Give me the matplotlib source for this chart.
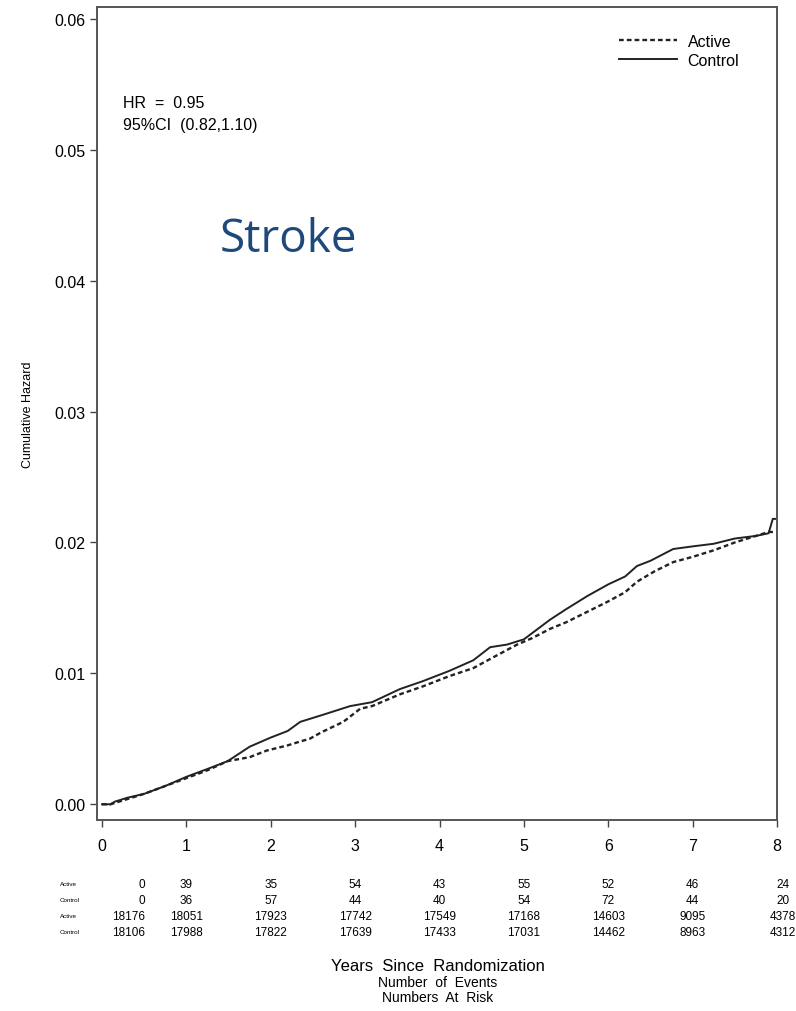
import numpy as np
import matplotlib
matplotlib.use("Agg")
import matplotlib.pyplot as plt

plt.rcParams['font.family'] = ['Liberation Sans', 'DejaVu Sans']

# cumulative hazard curves
t_control = [0, 0.10, 0.15, 0.30, 0.50, 0.75, 1.00, 1.25, 1.49, 1.75, 2.00, 2.20, 2.35,
             2.60, 2.94, 3.20, 3.53, 3.80, 4.12, 4.40, 4.60, 4.80, 5.00, 5.31, 5.50,
             5.75, 6.00, 6.20, 6.34, 6.50, 6.77, 7.00, 7.25, 7.50, 7.75, 7.90, 7.95, 8.00]
h_control = [0, 0, 0.0002, 0.0005, 0.0008, 0.0014, 0.0021, 0.0027, 0.0033, 0.0044,
             0.0051, 0.0056, 0.0063, 0.0068, 0.0075, 0.0078, 0.0088, 0.0094, 0.0102,
             0.0110, 0.0120, 0.0122, 0.0126, 0.0141, 0.0149, 0.0159, 0.0168, 0.0174,
             0.0182, 0.0186, 0.0195, 0.0197, 0.0199, 0.0203, 0.0205, 0.0207, 0.0218, 0.0218]

t_active = [0, 0.10, 0.15, 0.30, 0.50, 0.75, 1.00, 1.25, 1.49, 1.75, 1.95, 2.20, 2.35,
            2.46, 2.60, 2.86, 3.06, 3.20, 3.53, 3.80, 4.12, 4.40, 4.60, 4.92, 5.10,
            5.31, 5.50, 5.75, 6.00, 6.20, 6.34, 6.55, 6.77, 7.00, 7.25, 7.50, 7.75,
            7.90, 8.00]
h_active = [0, 0, 0.0001, 0.0004, 0.0008, 0.0014, 0.0020, 0.0026, 0.0033, 0.0036,
            0.0041, 0.0045, 0.0048, 0.0050, 0.0055, 0.0063, 0.0073, 0.0075, 0.0084,
            0.0090, 0.0098, 0.0104, 0.0111, 0.0122, 0.0127, 0.0134, 0.0139, 0.0147,
            0.0155, 0.0162, 0.0170, 0.0178, 0.0185, 0.0189, 0.0194, 0.0200, 0.0205,
            0.0208, 0.0208]

years = [0, 1, 2, 3, 4, 5, 6, 7, 8]
events_active = [0, 39, 35, 54, 43, 55, 52, 46, 24]
events_control = [0, 36, 57, 44, 40, 54, 72, 44, 20]
risk_active = [18176, 18051, 17923, 17742, 17549, 17168, 14603, 9095, 4378]
risk_control = [18106, 17988, 17822, 17639, 17433, 17031, 14462, 8963, 4312]
row_labels = ['Active', 'Control', 'Active', 'Control']

W, H = 796, 1012
fig = plt.figure(figsize=(W / 100, H / 100), dpi=100)
ax = fig.add_axes([97 / W, 1 - 821 / H, 680 / W, 813 / H])

ax.plot(t_active, h_active, color='#222222', lw=1.7, ls=(0, (2.0, 1.3)), label='Active')
ax.plot(t_control, h_control, color='#222222', lw=1.4, label='Control')

ax.set_xlim(-0.06, 8.0)
ax.set_ylim(-0.0012, 0.0609)
ax.set_xticks(years)
ax.set_yticks([0, 0.01, 0.02, 0.03, 0.04, 0.05, 0.06])
ax.set_yticklabels(['0.00', '0.01', '0.02', '0.03', '0.04', '0.05', '0.06'])
ax.tick_params(labelsize=11.5, length=5, width=1, color='#444444')
ax.tick_params(axis='x', pad=8)
for s in ax.spines.values():
    s.set_color('#555555')
    s.set_linewidth(1.4)

ax.set_ylabel('Cumulative Hazard', fontsize=9)
ax.yaxis.set_label_coords(-0.092, 0.5)

leg = ax.legend(loc='upper left', bbox_to_anchor=(522 / 680, 1 - 27 / 813), frameon=False,
                fontsize=11.5, handlelength=3.6, handletextpad=0.7, labelspacing=0.25,
                borderaxespad=0, borderpad=0)

fig.text(123 / W, 1 - 104 / H, 'HR  =  0.95', fontsize=11.5, va='center')
fig.text(123 / W, 1 - 126 / H, '95%CI  (0.82,1.10)', fontsize=11.5, va='center')

fig.text(220 / W, 1 - 240 / H, 'Stroke', fontsize=33, color='#1F497D', va='center',
         family=['Open Sans', 'DejaVu Sans'])

# events / at-risk table under the axis
def xpix(t):
    return ax.transData.transform((t, 0))[0] / W

rows = [events_active, events_control, risk_active, risk_control]
row_y = [885, 901, 917, 933]
for lab, vals, yp in zip(row_labels, rows, row_y):
    fig.text(60 / W, 1 - yp / H, lab, fontsize=4.5, va='center')
    for i, (t, v) in enumerate(zip(years, vals)):
        if i == 0:
            fig.text(145 / W, 1 - yp / H, str(v), fontsize=8.5, va='center', ha='right')
        else:
            x = xpix(t) + (6 / W if i == 8 else 0)
            fig.text(x, 1 - yp / H, str(v), fontsize=8.5, va='center', ha='center')

fig.text(438 / W, 1 - 967 / H, 'Years  Since  Randomization', fontsize=12,
         ha='center', va='center')
fig.text(438 / W, 1 - 983 / H, 'Number  of  Events', fontsize=10, ha='center', va='center')
fig.text(438 / W, 1 - 998 / H, 'Numbers  At  Risk', fontsize=10, ha='center', va='center')

fig.savefig('out.png', dpi=100)
